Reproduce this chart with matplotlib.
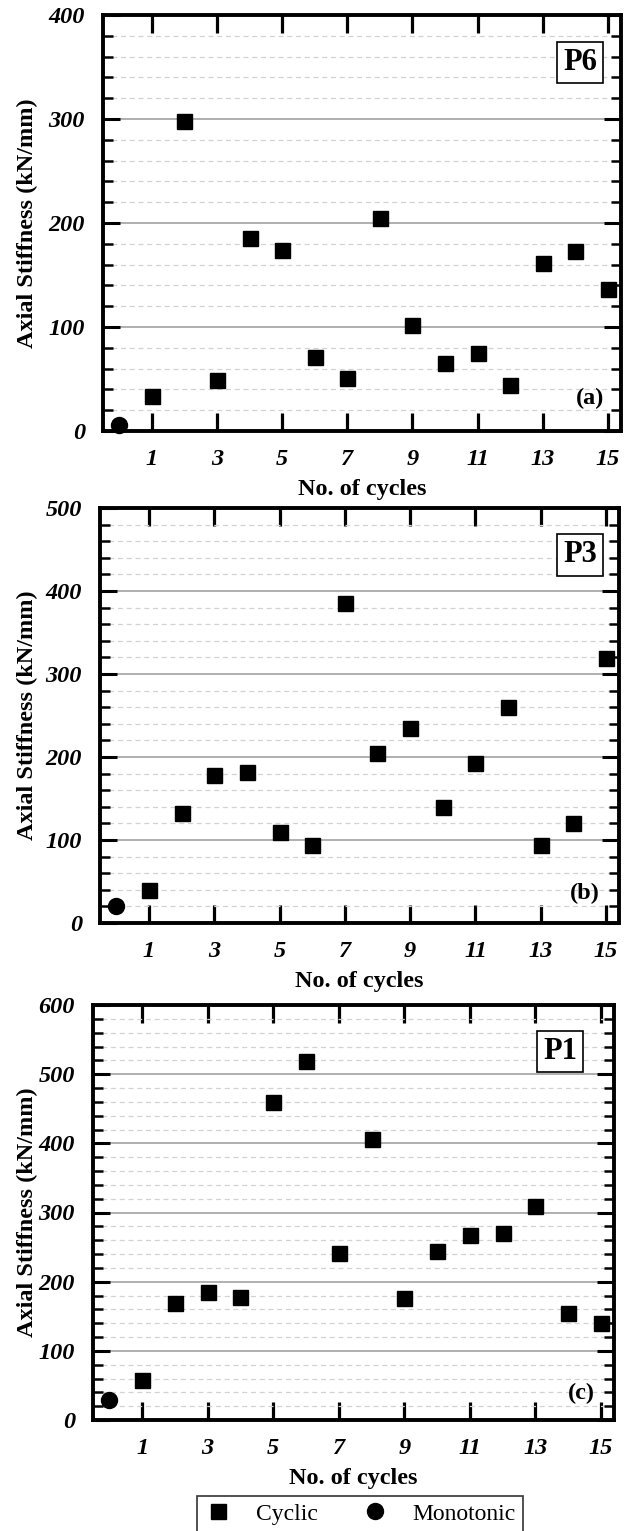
import matplotlib
matplotlib.use("Agg")
import matplotlib.pyplot as plt
from matplotlib.ticker import MultipleLocator, FixedLocator

plt.rcParams['font.family'] = ['Liberation Serif', 'DejaVu Serif']

# data
cycles = list(range(1, 16))
x_ticks = [1, 3, 5, 7, 9, 11, 13, 15]

p6_cyclic = [34, 298, 49, 186, 174, 71, 51, 205, 102, 65, 75, 44, 162, 173, 137]
p6_mono = [6]
p3_cyclic = [40, 133, 178, 182, 110, 94, 386, 205, 235, 140, 193, 260, 94, 120, 319]
p3_mono = [21]
p1_cyclic = [58, 169, 185, 178, 460, 519, 241, 406, 176, 244, 267, 271, 310, 154, 140]
p1_mono = [29]

panel_names = ["P6", "P3", "P1"]
panel_tags = ["(a)", "(b)", "(c)"]
y_max = [400, 500, 600]

W, H = 624, 1531
# axes boxes in pixels: left, top, right, bottom
boxes = [(103, 15, 621, 431), (100, 508, 619, 923), (93, 1005, 614, 1420)]
name_pos = [(0.921, 0.886), (0.925, 0.887), (0.897, 0.888)]
tag_pos = [(0.940, 0.079), (0.934, 0.070), (0.937, 0.065)]


def setup_axis(ax, ymax, left, top, right, bottom):
    ax.set_xlim(-0.5, 15.4)
    ax.set_ylim(0, ymax)
    ax.xaxis.set_major_locator(FixedLocator(x_ticks))
    ax.yaxis.set_major_locator(MultipleLocator(100))
    ax.yaxis.set_minor_locator(MultipleLocator(20))
    ax.set_axisbelow(True)
    ax.grid(which='major', axis='y', color='#9a9a9a', lw=1.1, ls='-')
    ax.grid(which='minor', axis='y', color='#d2d2d2', lw=0.9, ls=(0, (4, 3)))
    for s in ax.spines.values():
        s.set_linewidth(2.8)
    ax.tick_params(axis='x', which='major', direction='in', top=True, bottom=True,
                   length=13, width=2.3, pad=13, labelsize=17.5)
    ax.tick_params(axis='y', which='major', direction='in', left=True, right=True,
                   length=12, width=2.2, pad=13, labelsize=17.5)
    ax.tick_params(axis='y', which='minor', direction='in', left=True, right=True,
                   length=7, width=1.8)
    for lab in ax.get_xticklabels() + ax.get_yticklabels():
        lab.set_fontweight('bold')
        lab.set_fontstyle('italic')
    ax.set_xlabel("No. of cycles", fontsize=17.5, fontweight='bold')
    ax.set_ylabel("Axial Stiffness (kN/mm)", fontsize=17.5, fontweight='bold')
    wpx = right - left
    hpx = bottom - top
    ax.xaxis.set_label_coords(0.5, -(479 - 431) / hpx)
    ax.yaxis.set_label_coords((38 - left) / wpx, 0.5)


fig = plt.figure(figsize=(W / 100, H / 100), dpi=100)

data = [(p6_cyclic, p6_mono), (p3_cyclic, p3_mono), (p1_cyclic, p1_mono)]
for i, (cyc, mono) in enumerate(data):
    left, top, right, bottom = boxes[i]
    ax = fig.add_axes([left / W, 1 - bottom / H, (right - left) / W, (bottom - top) / H])
    sq = ax.plot(cycles, cyc, ls='none', marker='s', ms=10.8, color='black',
                 mec='black', label='Cyclic', clip_on=False, zorder=3)[0]
    ci = ax.plot([0], mono, ls='none', marker='o', ms=11.5, color='black',
                 label='Monotonic', clip_on=False, zorder=3)[0]
    setup_axis(ax, y_max[i], left, top, right, bottom)
    ax.text(name_pos[i][0], name_pos[i][1], panel_names[i], transform=ax.transAxes,
            ha='center', va='center', fontsize=22, fontweight='bold',
            bbox=dict(boxstyle='square,pad=0.2', fc='white', ec='black', lw=1.2))
    ax.text(tag_pos[i][0], tag_pos[i][1], panel_tags[i], transform=ax.transAxes,
            ha='center', va='center', fontsize=17.5, fontweight='bold')

leg = fig.legend(handles=[sq, ci], labels=['Cyclic', 'Monotonic'], ncol=2,
                 loc='upper center', bbox_to_anchor=(360 / W, 1 - 1496 / H),
                 fontsize=17, frameon=True, fancybox=False, edgecolor='black',
                 handletextpad=1.0, columnspacing=1.8, borderpad=0.3,
                 handlelength=1.2, borderaxespad=0)
leg.get_frame().set_linewidth(1.2)

fig.savefig("out.png", dpi=100)
